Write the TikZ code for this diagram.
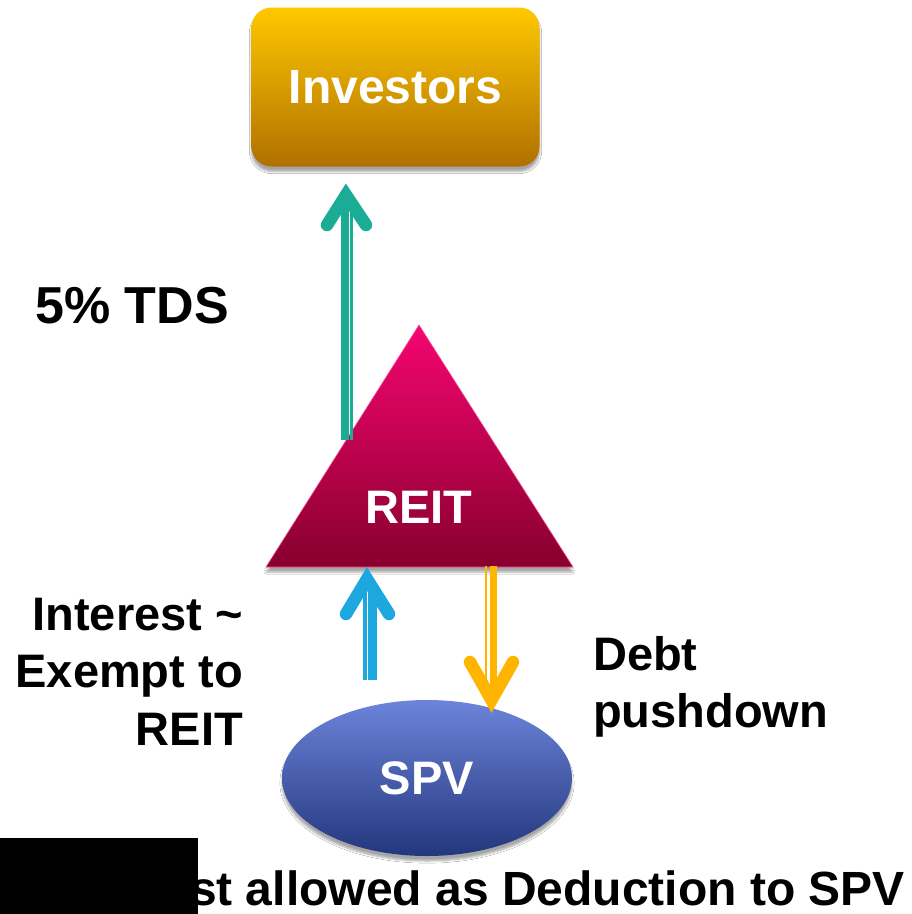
\documentclass[tikz,border=0pt]{standalone}
\usepackage{fontspec}
\setmainfont{Liberation Sans}
\usetikzlibrary{shapes.geometric,shadows.blur}
\definecolor{invtop}{RGB}{255,200,0}
\definecolor{invbot}{RGB}{176,112,0}
\definecolor{reittop}{RGB}{245,5,112}
\definecolor{reitbot}{RGB}{135,0,45}
\definecolor{spvtop}{RGB}{108,132,218}
\definecolor{spvbot}{RGB}{35,55,125}
\definecolor{tealc}{RGB}{27,172,150}
\definecolor{bluec}{RGB}{28,168,222}
\definecolor{yelc}{RGB}{255,180,0}
\begin{document}
\begin{tikzpicture}[x=1pt,y=-1pt,
  lbl/.style={inner sep=0pt, font=\fontsize{47}{56}\selectfont\bfseries},
  wlbl/.style={lbl, text=white},
  shad/.style={blur shadow={shadow xshift=0pt, shadow yshift=-5pt, shadow blur steps=6, shadow opacity=35}},
  shthick/.style={line width=8pt},
  shthin/.style={line width=3.2pt},
  headstroke/.style={line width=12.5pt, line cap=round, line join=miter, miter limit=10}
]
\useasboundingbox (0,0) rectangle (912,914);
\fill[white] (0,0) rectangle (912,914);

% Investors box
\node[shad, rounded corners=20pt, minimum width=288pt, minimum height=159pt,
      top color=invtop, bottom color=invbot, inner sep=0pt,
      text=white, font=\fontsize{48}{56}\selectfont\bfseries] (inv) at (395.5,87) {Investors};

% REIT triangle
\coordinate (ra) at (419,325);
\coordinate (rl) at (266,567);
\coordinate (rr) at (573,567);
\shade[shad, top color=reittop, bottom color=reitbot] (ra) -- (rr) -- (rl) -- cycle;
\draw[reittop!70!white, line width=0.6pt] (ra) -- (rr) -- (rl) -- cycle;
\node[wlbl, anchor=base] (reit) at (419,523) {REIT};

% SPV ellipse
\node[shad, ellipse, minimum width=290pt, minimum height=156pt, inner sep=0pt,
      top color=spvtop, bottom color=spvbot,
      text=white, font=\fontsize{47}{56}\selectfont\bfseries] (spv) at (427,778) {SPV};

% Teal arrow REIT -> Investors
\coordinate (t1) at (345,440);   \coordinate (t2) at (345,202);
\coordinate (t3) at (351.7,440); \coordinate (t4) at (351.7,202);
\coordinate (th) at (346,195);
\coordinate (thl) at (327,225);  \coordinate (thr) at (366,225);
\draw[tealc, shthick] (t1) -- (t2);
\draw[tealc, shthin] (t3) -- (t4);
\draw[tealc, headstroke] (thl) -- (th) -- (thr);

% Blue arrow SPV -> REIT
\coordinate (b1) at (365,680);   \coordinate (b2) at (365,588);
\coordinate (b3) at (372.5,680); \coordinate (b4) at (372.5,588);
\coordinate (bh) at (367,579);
\coordinate (bhl) at (346,614);  \coordinate (bhr) at (389,614);
\draw[bluec, shthin] (b1) -- (b2);
\draw[bluec, line width=8.5pt] (b3) -- (b4);
\draw[bluec, headstroke] (bhl) -- (bh) -- (bhr);

% Yellow arrow REIT -> SPV
\coordinate (y1) at (486,566);   \coordinate (y2) at (486,690);
\coordinate (y3) at (493.5,566); \coordinate (y4) at (493.5,690);
\coordinate (yh) at (491.5,700);
\coordinate (yhl) at (470,662);  \coordinate (yhr) at (513,662);
\draw[yelc, line width=2.6pt] (y1) -- (y2);
\draw[yelc, line width=7pt] (y3) -- (y4);
\draw[yelc, headstroke] (yhl) -- (yh) -- (yhr);

% Labels
\node[lbl, anchor=base west, font=\fontsize{52}{60}\selectfont\bfseries] (tds) at (35,323) {5\% TDS};
\node[lbl, anchor=base east] (int1) at (243,630) {Interest \textasciitilde};
\node[lbl, anchor=base east] (int2) at (243,687.5) {Exempt to};
\node[lbl, anchor=base east] (int3) at (243,745) {REIT};
\node[lbl, anchor=base west] (debt1) at (593,670) {Debt};
\node[lbl, anchor=base west] (debt2) at (593,727) {pushdown};

% Bottom text and black cover
\node[lbl, anchor=base east, font=\fontsize{48}{56}\selectfont\bfseries] (bottom) at (905,905) {st allowed as Deduction to SPV};
\fill[black] (0,838) rectangle (198,914);
\end{tikzpicture}
\end{document}
